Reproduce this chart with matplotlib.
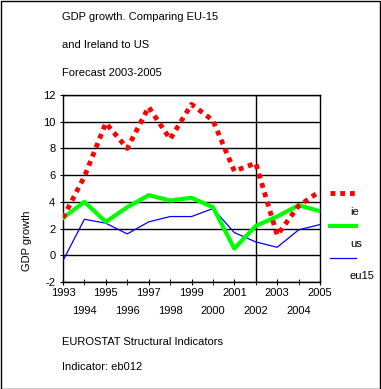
import matplotlib.pyplot as plt
from matplotlib.patches import Rectangle

# data
years = [1993, 1994, 1995, 1996, 1997, 1998, 1999, 2000, 2001, 2002, 2003, 2004, 2005]
ie = [2.8, 5.9, 9.9, 8.0, 11.1, 8.7, 11.3, 10.1, 6.3, 6.9, 1.5, 3.7, 4.8]
us = [2.8, 4.0, 2.5, 3.6, 4.5, 4.1, 4.3, 3.6, 0.5, 2.2, 2.9, 3.75, 3.3]
eu15 = [-0.4, 2.7, 2.4, 1.6, 2.5, 2.9, 2.9, 3.5, 1.7, 1.0, 0.6, 1.9, 2.3]
forecast_start = 2002
y_ticks = [-2, 0, 2, 4, 6, 8, 10, 12]

plt.rcParams['font.family'] = ['Liberation Sans', 'DejaVu Sans']
plt.rcParams['font.size'] = 8
plt.rcParams['axes.unicode_minus'] = False

W, H = 381, 389
fig = plt.figure(figsize=(W / 100, H / 100), dpi=100)
fig.patch.set_facecolor('white')
fig.add_artist(Rectangle((0.5 / W, 0.5 / H), 1 - 1.5 / W, 1 - 1.5 / H, transform=fig.transFigure,
                         fill=False, edgecolor='black', linewidth=1))

ax = fig.add_axes([63 / W, 1 - 282 / H, 257 / W, 187 / H])

ax.plot(years, eu15, color='#0000ff', linewidth=0.9, label='eu15', zorder=3)
ax.plot(years, us, color='#00ff00', linewidth=3, label='us', zorder=4)
ax.plot(years, ie, color='#ff0000', linestyle=(0, (1, 1)), linewidth=3.5, label='ie', zorder=5)

ax.axvline(forecast_start, color='black', linewidth=1)

ax.set_xlim(1993, 2005)
ax.set_ylim(-2, 12)
ax.set_yticks(y_ticks)
ax.yaxis.grid(True, color='black', linewidth=1)
ax.set_axisbelow(True)

# odd years on the first row, even years on the second
ax.set_xticks([y for y in years if y % 2 == 1])
ax.set_xticks([y for y in years if y % 2 == 0], minor=True)
ax.set_xticklabels([str(y) for y in years if y % 2 == 1])
ax.set_xticklabels([str(y) for y in years if y % 2 == 0], minor=True)
ax.tick_params(axis='x', which='major', direction='inout', length=5, pad=2)
ax.tick_params(axis='x', which='minor', direction='inout', length=5, pad=15)
ax.tick_params(axis='y', direction='inout', length=5, pad=3)
for s in ax.spines.values():
    s.set_linewidth(1)

ax.set_ylabel('GDP growth')
ax.yaxis.set_label_coords(-31 / 257, 0.22)

fig.text(62 / W, 1 - 17 / H, 'GDP growth. Comparing EU-15', va='center')
fig.text(62 / W, 1 - 45 / H, 'and Ireland to US', va='center')
fig.text(62 / W, 1 - 73 / H, 'Forecast 2003-2005', va='center')
fig.text(62 / W, 1 - 342 / H, 'EUROSTAT Structural Indicators', va='center')
fig.text(62 / W, 1 - 367 / H, 'Indicator: eb012', va='center')

# legend drawn by hand at the right
lx0, lx1 = 330 / W, 356 / W
handles = [('ie', '#ff0000', (0, (1, 1)), 3.5, 193, 212),
           ('us', '#00ff00', '-', 3, 226, 244),
           ('eu15', '#0000ff', '-', 0.9, 258, 276)]
for name, c, ls, lw, yl, yt in handles:
    fig.add_artist(plt.Line2D([lx0, lx1], [1 - yl / H, 1 - yl / H], color=c, linestyle=ls,
                              linewidth=lw, transform=fig.transFigure))
    fig.text(350 / W, 1 - yt / H, name, va='center')

fig.savefig('out.png', dpi=100)
